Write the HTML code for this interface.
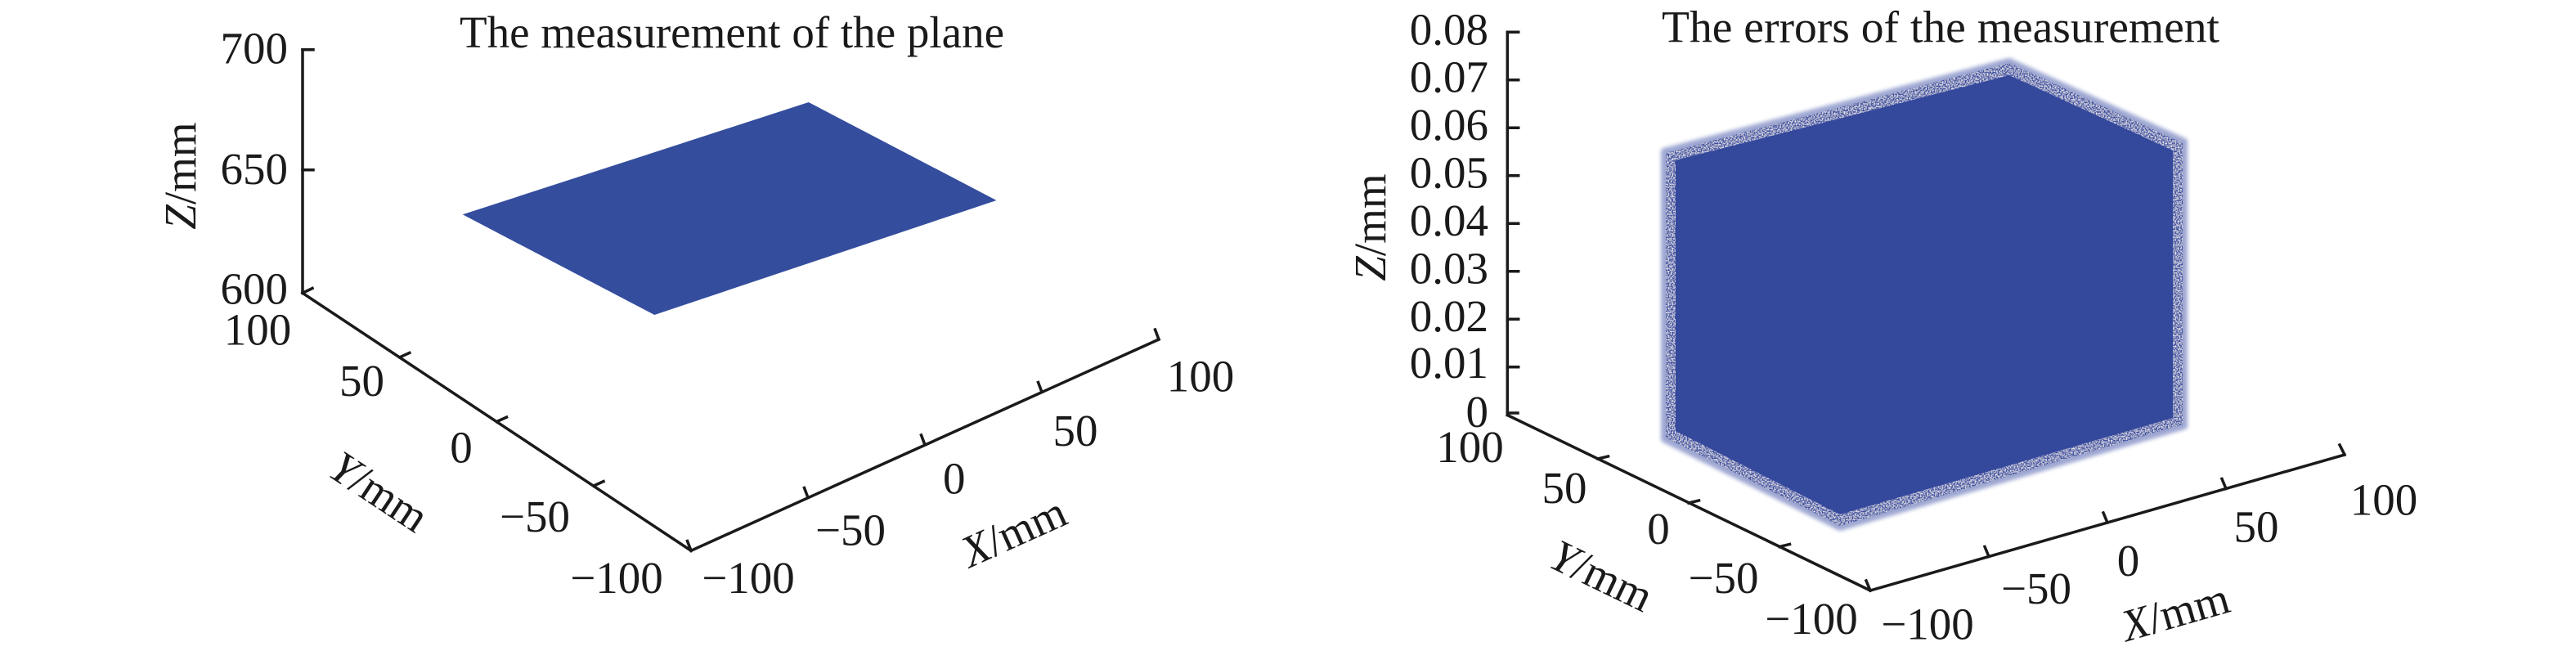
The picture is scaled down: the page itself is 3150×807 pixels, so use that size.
<!DOCTYPE html>
<html>
<head>
<meta charset="utf-8">
<style>
html,body{margin:0;padding:0;background:#fff;}
svg{display:block;}
text{font-family:"Liberation Serif","Times New Roman",serif;font-size:55px;fill:#1a1a1a;}
</style>
</head>
<body>
<svg width="3150" height="807" viewBox="0 0 3150 807" xmlns="http://www.w3.org/2000/svg">
<defs>
  <filter id="fz" x="-5%" y="-5%" width="110%" height="110%">
    <feGaussianBlur stdDeviation="2.5"/>
  </filter>
  <filter id="speck" x="-5%" y="-5%" width="110%" height="110%">
    <feTurbulence type="fractalNoise" baseFrequency="0.6" numOctaves="1" seed="3" result="n"/>
    <feColorMatrix in="n" type="matrix" values="0 0 0 0 1  0 0 0 0 1  0 0 0 0 1  0 0 0 -2.2 1.35" result="w"/>
    <feComposite in="w" in2="SourceGraphic" operator="in" result="wm"/>
    <feMerge><feMergeNode in="SourceGraphic"/><feMergeNode in="wm"/></feMerge>
  </filter>
</defs>

<!-- ============ LEFT PLOT ============ -->
<text x="562" y="58" textLength="666" lengthAdjust="spacingAndGlyphs">The measurement of the plane</text>

<!-- plane -->
<polygon points="565.7,262.3 988.8,125 1218.5,245 800.3,385" fill="#344d9d"/>

<g stroke="#1a1a1a" stroke-width="3.5" fill="none" stroke-linecap="square">
  <!-- Z axis -->
  <line x1="370" y1="60.7" x2="370" y2="358.3"/>
  <line x1="370" y1="60.7" x2="383" y2="60.7"/>
  <line x1="370" y1="207.7" x2="383" y2="207.7"/>
  <line x1="370" y1="358.3" x2="382" y2="352.5"/>
  <!-- Y axis -->
  <line x1="370" y1="358.3" x2="845" y2="673.3"/>
  <line x1="488.8" y1="436.8" x2="500.8" y2="431.4"/>
  <line x1="607.5" y1="515.5" x2="619.5" y2="510.1"/>
  <line x1="726" y1="594" x2="738" y2="588.6"/>
  <!-- X axis -->
  <line x1="845" y1="673.3" x2="1417" y2="415"/>
  <line x1="845" y1="673.3" x2="840.5" y2="661.5"/>
  <line x1="988" y1="608.5" x2="983.5" y2="596.5"/>
  <line x1="1131" y1="544" x2="1126.5" y2="532"/>
  <line x1="1274" y1="479.5" x2="1269.5" y2="467.5"/>
  <line x1="1417" y1="415" x2="1412.5" y2="403"/>
</g>

<!-- Z tick labels -->
<text x="352" y="77.3" text-anchor="end">700</text>
<text x="352" y="225" text-anchor="end">650</text>
<text x="352" y="371.7" text-anchor="end">600</text>
<text transform="translate(239,215) rotate(-90)" text-anchor="middle"><tspan font-style="italic">Z</tspan>/mm</text>

<!-- Y tick labels -->
<text x="315" y="421.7" text-anchor="middle">100</text>
<text x="442.5" y="484" text-anchor="middle">50</text>
<text x="564" y="565.7" text-anchor="middle">0</text>
<text x="654" y="650" text-anchor="middle">−50</text>
<text x="754" y="725" text-anchor="middle">−100</text>
<text transform="translate(453.4,616.5) rotate(33.5)" text-anchor="middle"><tspan font-style="italic">Y</tspan>/mm</text>

<!-- X tick labels -->
<text x="915" y="725" text-anchor="middle">−100</text>
<text x="1040" y="666.7" text-anchor="middle">−50</text>
<text x="1166.7" y="603.3" text-anchor="middle">0</text>
<text x="1315" y="545" text-anchor="middle">50</text>
<text x="1468" y="478.3" text-anchor="middle">100</text>
<text transform="translate(1247,667) rotate(-24.3)" text-anchor="middle"><tspan font-style="italic">X</tspan>/mm</text>

<!-- ============ RIGHT PLOT ============ -->
<text x="2032" y="51.7" textLength="682" lengthAdjust="spacingAndGlyphs">The errors of the measurement</text>

<!-- scatter cube -->
<polygon points="2035,185 2457,75 2671,173 2671,521 2250,645 2035,537" fill="#5d6cb3" stroke="#7683c0" stroke-width="8" stroke-linejoin="round" opacity="0.7" filter="url(#fz)"/>
<g filter="url(#speck)">
<polygon points="2037,187 2457,77 2669,175 2669,519 2250,643 2037,535" fill="#3d50a1"/>
</g>
<polygon points="2049,196 2457,92 2657,184 2657,511 2250,629 2049,527" fill="#34489c"/>

<g stroke="#1a1a1a" stroke-width="3.5" fill="none" stroke-linecap="square">
  <!-- Z axis -->
  <line x1="1843.3" y1="39.3" x2="1843.3" y2="507.5"/>
  <line x1="1843.3" y1="39.3" x2="1856.7" y2="39.3"/>
  <line x1="1843.3" y1="97.8" x2="1856.7" y2="97.8"/>
  <line x1="1843.3" y1="156.3" x2="1856.7" y2="156.3"/>
  <line x1="1843.3" y1="214.8" x2="1856.7" y2="214.8"/>
  <line x1="1843.3" y1="273.3" x2="1856.7" y2="273.3"/>
  <line x1="1843.3" y1="331.8" x2="1856.7" y2="331.8"/>
  <line x1="1843.3" y1="390.3" x2="1856.7" y2="390.3"/>
  <line x1="1843.3" y1="448.8" x2="1856.7" y2="448.8"/>
  <line x1="1843.3" y1="505" x2="1856" y2="505"/>
  <!-- Y axis -->
  <line x1="1843.3" y1="507.5" x2="2287" y2="722"/>
  <line x1="1954" y1="561" x2="1966.5" y2="558"/>
  <line x1="2065" y1="615" x2="2077.5" y2="612"/>
  <line x1="2176" y1="668.5" x2="2188.5" y2="665.5"/>
  <!-- X axis -->
  <line x1="2287" y1="722" x2="2867" y2="556"/>
  <line x1="2287" y1="722" x2="2282" y2="710"/>
  <line x1="2432" y1="680.5" x2="2427" y2="668.5"/>
  <line x1="2577" y1="639" x2="2572" y2="627"/>
  <line x1="2722" y1="597.5" x2="2717" y2="585.5"/>
  <line x1="2867" y1="556" x2="2861" y2="544"/>
</g>

<!-- Z labels -->
<text x="1820" y="54.5" text-anchor="end">0.08</text>
<text x="1820" y="112.5" text-anchor="end">0.07</text>
<text x="1820" y="171" text-anchor="end">0.06</text>
<text x="1820" y="229.5" text-anchor="end">0.05</text>
<text x="1820" y="288" text-anchor="end">0.04</text>
<text x="1820" y="346.5" text-anchor="end">0.03</text>
<text x="1820" y="405" text-anchor="end">0.02</text>
<text x="1820" y="462" text-anchor="end">0.01</text>
<text x="1820" y="522" text-anchor="end">0</text>
<text transform="translate(1694,278) rotate(-90)" text-anchor="middle"><tspan font-style="italic">Z</tspan>/mm</text>

<!-- Y labels -->
<text x="1797.5" y="565" text-anchor="middle">100</text>
<text x="1913" y="615" text-anchor="middle">50</text>
<text x="2028" y="665" text-anchor="middle">0</text>
<text x="2107.5" y="725" text-anchor="middle">−50</text>
<text x="2215" y="775" text-anchor="middle">−100</text>
<text transform="translate(1950.5,720.5) rotate(25.8)" text-anchor="middle"><tspan font-style="italic">Y</tspan>/mm</text>

<!-- X labels -->
<text x="2357" y="781.7" text-anchor="middle">−100</text>
<text x="2490" y="738" text-anchor="middle">−50</text>
<text x="2602.5" y="704" text-anchor="middle">0</text>
<text x="2759" y="662.7" text-anchor="middle">50</text>
<text x="2915" y="629.3" text-anchor="middle">100</text>
<text transform="translate(2665,766) rotate(-16)" text-anchor="middle"><tspan font-style="italic">X</tspan>/mm</text>
</svg>
</body>
</html>
